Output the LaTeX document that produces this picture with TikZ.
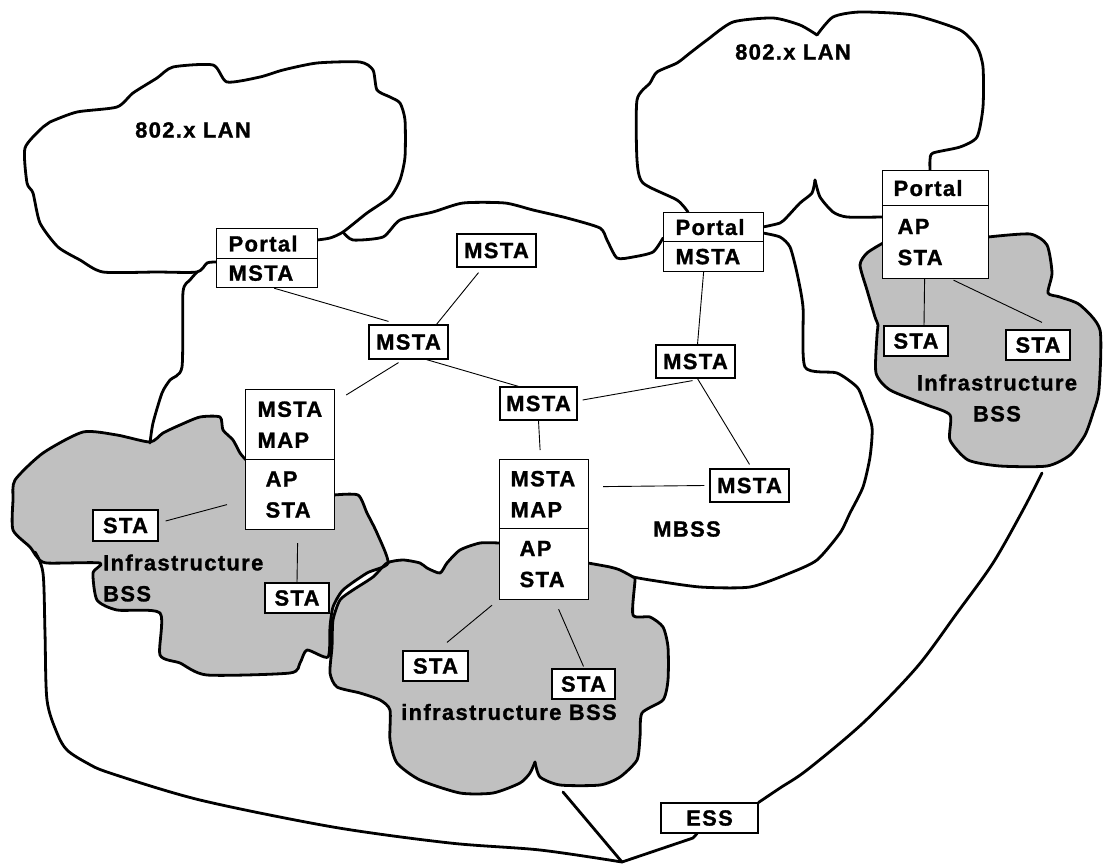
\documentclass[tikz,border=0pt]{standalone}
\usepackage{fontspec}
\newfontfamily\lab{Liberation Sans}[LetterSpace=6, BoldFeatures={FakeBold=1.2}]
\definecolor{bssgray}{HTML}{C0C0C0}
\begin{document}
\begin{tikzpicture}[x=1pt,y=-1pt,
  lblfont/.style={font=\lab\bfseries\fontsize{22}{31}\selectfont},
  cloud/.style={line width=2.8pt, line join=round, line cap=round},
  link/.style={line width=0.9pt},
  cell/.style n args={3}{draw, line width=1.2pt, fill=white, anchor=north west, inner ysep=0pt, inner xsep=#3, text width=#1, minimum height=#2, align=left, lblfont},
  sbox/.style 2 args={draw, line width=1.2pt, fill=white, inner sep=0pt, minimum width=#1, minimum height=#2, lblfont},
  lbl/.style={inner sep=0pt, lblfont}
]
\useasboundingbox (0,0) rectangle (1108,865);

% ---------- gray BSS clouds (fills) ----------
\fill[bssgray] plot[smooth cycle, tension=0.4] coordinates {
 (246,460) (240,453) (233,440) (223,430) (220,417) (200,417) (180,425) (163,433) (150,442)
 (117,435) (83,432) (43,453) (15,480) (13,500) (13,530) (30,547) (37,557) (47,563) (100,563)
 (93,573) (97,600) (117,610) (160,613) (160,655) (180,663) (207,675) (290,673) (300,663)
 (307,650) (328,657) (330,627) (333,607) (343,590) (367,573) (388,563) (377,533) (367,513)
 (358,495) (334,495) (290,480)};
\fill[bssgray] plot[smooth cycle, tension=0.4] coordinates {
 (499,543) (480,543) (460,550) (447,563) (440,573) (427,568) (420,563) (403,560) (387,563)
 (373,577) (353,590) (340,600) (333,620) (332,647) (330,673) (337,687) (360,693) (380,700)
 (390,710) (390,740) (397,763) (420,780) (460,793) (493,793) (520,783) (530,773) (535,762)
 (540,777) (560,785) (600,785) (620,777) (637,760) (640,737) (642,713) (663,700) (668,680)
 (668,647) (663,627) (650,617) (633,615) (635,580) (633,577) (620,570) (610,567) (588,563) (543,550)};
\fill[bssgray] plot[smooth cycle, tension=0.4] coordinates {
 (883,243) (867,253) (860,265) (867,290) (875,317) (878,325) (877,335) (876,373) (890,390)
 (927,405) (950,415) (950,440) (968,460) (1000,466) (1047,466) (1070,455) (1085,435) (1093,413)
 (1099,390) (1100,330) (1080,305) (1060,297) (1048,293) (1052,273) (1047,245) (1030,234) (988,237) (935,250)};

% ---------- gray cloud outlines ----------
\draw[cloud] plot[smooth, tension=0.4] coordinates {
 (246,460) (240,453) (233,440) (223,430) (220,417) (200,417) (180,425) (163,433) (150,442)
 (117,435) (83,432) (43,453) (15,480) (13,500) (13,530) (30,547) (37,557) (47,563) (100,563)
 (93,573) (97,600) (117,610) (160,613) (160,655) (180,663) (207,675) (290,673) (300,663)
 (307,650) (328,657) (330,627) (333,607) (343,590) (367,573) (388,563) (377,533) (367,513)
 (358,495) (334,495)};
\draw[cloud] plot[smooth, tension=0.4] coordinates {
 (499,543) (480,543) (460,550) (447,563) (440,573) (427,568) (420,563) (403,560) (387,563)
 (373,577) (353,590) (340,600) (333,620) (332,647) (330,673) (337,687) (360,693) (380,700)
 (390,710) (390,740) (397,763) (420,780) (460,793) (493,793) (520,783) (530,773) (535,762)};
\draw[cloud] plot[smooth, tension=0.4] coordinates {
 (535,762) (540,777) (560,785) (600,785) (620,777) (637,760) (640,737) (642,713) (663,700) (668,680)
 (668,647) (663,627) (650,617) (633,615) (635,580) (633,577) (620,570) (610,567) (588,563)};
\draw[cloud] plot[smooth, tension=0.4] coordinates {
 (883,243) (867,253) (860,265) (867,290) (875,317) (878,325) (877,335) (876,373) (890,390)
 (927,405) (950,415) (950,440) (968,460) (1000,466) (1047,466) (1070,455) (1085,435) (1093,413)
 (1099,390) (1100,330) (1080,305) (1060,297) (1048,293) (1052,273) (1047,245) (1030,234) (988,237)};

% ---------- white cloud outlines ----------
% left 802.x LAN
\draw[cloud] plot[smooth, tension=0.4] coordinates {
 (216,262) (207,263) (197,272) (157,272) (103,272) (80,260) (58,247) (40,223) (33,193) (27,183)
 (25,148) (43,127) (50,122) (77,112) (117,107) (133,93) (157,78) (173,67) (213,65) (227,82)
 (260,77) (283,70) (317,63) (360,62) (373,70) (377,90) (390,97) (400,103) (405,120) (405,157)
 (400,180) (390,197) (367,213) (343,232) (330,238) (317,240)};
% MBSS left side
\draw[cloud] plot[smooth, tension=0.4] coordinates {
 (197,272) (190,280) (183,292) (182,367) (170,380) (162,393) (153,423) (150,443)};
% MBSS top
\draw[cloud] plot[smooth, tension=0.4] coordinates {
 (343,232) (353,240) (383,237) (400,220) (433,212) (463,203) (505,203) (533,210) (567,218)
 (600,228) (607,240) (617,258) (633,257) (653,252) (663,238)};
% MBSS right and bottom
\draw[cloud] plot[smooth, tension=0.4] coordinates {
 (763,233) (780,237) (790,247) (797,273) (803,307) (805,367) (837,373) (857,387) (863,400)
 (872,427) (870,457) (863,487) (850,513) (840,533) (817,560) (790,573) (750,587) (700,587)
 (650,580) (633,577)};
% right 802.x LAN bottom
\draw[cloud] plot[smooth, tension=0.4] coordinates {
 (763,227) (780,223) (787,217) (800,203) (812,193) (815,180)};
\draw[cloud] plot[smooth, tension=0.4] coordinates {
 (815,180) (820,197) (833,212) (847,217) (882,217)};
% right 802.x LAN top
\draw[cloud] plot[smooth, tension=0.4] coordinates {
 (688,212) (677,200) (643,183) (637,160) (637,100) (650,83) (657,72) (677,63) (690,53)
 (707,40) (733,22) (773,18) (800,25) (817,35)};
\draw[cloud] plot[smooth, tension=0.4] coordinates {
 (817,35) (833,17) (860,12) (913,15) (960,30) (977,47) (983,67) (983,107) (977,137) (960,147)
 (933,153) (930,160) (930,170)};

% ---------- boxes ----------
\node[cell={77pt}{30}{12pt}] (pm1a) at (216,228) {Portal};
\node[cell={77pt}{29}{12pt}] (pm1b) at (216,258) {MSTA};
\node[cell={76pt}{29}{12pt}] (pm2a) at (663,212) {Portal};
\node[cell={76pt}{30}{12pt}] (pm2b) at (663,241) {MSTA};
\node[cell={84pt}{35}{11pt}] (pasa) at (882,170) {Portal};
\node[cell={76pt}{73}{15pt}] (pasb) at (882,205) {AP\\STA};
\node[cell={65pt}{70}{12pt}] (b1a) at (245,389) {MSTA\\MAP};
\node[cell={49pt}{70}{20pt}] (b1b) at (245,459) {AP\\STA};
\node[cell={67pt}{69}{11pt}] (b2a) at (499,459) {MSTA\\MAP};
\node[cell={49pt}{71}{20pt}] (b2b) at (499,528) {AP\\STA};

\node[sbox={79}{33}] (mtop) at (496.5,250.5) {MSTA};
\node[sbox={79}{34}] (mc) at (408.5,342) {MSTA};
\node[sbox={79}{33}] (mr) at (695.5,361.5) {MSTA};
\node[sbox={77}{33}] (mm) at (538.5,403.5) {MSTA};
\node[sbox={79}{33}] (mfr) at (749.5,485.5) {MSTA};
\node[sbox={64}{30}] (s1r) at (916,341) {STA};
\node[sbox={64}{30}] (s2r) at (1038,345) {STA};
\node[sbox={65}{31}] (sl1) at (125.5,525.5) {STA};
\node[sbox={64}{30}] (sl2) at (297,598) {STA};
\node[sbox={65}{30}] (sm1) at (435.5,666) {STA};
\node[sbox={63}{30}] (sm2) at (583.5,684) {STA};
\node[sbox={97}{30}] (ess) at (709.5,818) {ESS};

% ---------- thin links ----------
\draw[link] ([xshift=7pt]pm1b.south) -- ([xshift=-20pt,yshift=3pt]mc.north);
\draw[link] ([xshift=-18pt,yshift=-5pt]mtop.south) -- ([xshift=28pt]mc.north);
\draw[link] ([xshift=-10pt,yshift=-3pt]mc.south) -- ([xshift=11pt,yshift=-6pt]b1a.north east);
\draw[link] ([xshift=18pt]mc.south) -- ([xshift=-20pt]mm.north);
\draw[link] ([xshift=5pt,yshift=3.5pt]mm.east) -- ([xshift=-3pt,yshift=-2pt]mr.south);
\draw[link] (mm.south) -- ([xshift=-4pt,yshift=9pt]b2a.north);
\draw[link] ([xshift=-10pt]pm2b.south) -- ([xshift=2pt]mr.north);
\draw[link] ([xshift=2pt]mr.south) -- ([yshift=4pt]mfr.north);
\draw[link] ([xshift=14pt,yshift=7.5pt]b2a.east) -- ([xshift=-5pt]mfr.west);
\draw[link] ([xshift=7pt,yshift=4.5pt]sl1.east) -- ([xshift=-18pt,yshift=-10pt]b1b.west);
\draw[link] ([xshift=7.5pt,yshift=-13pt]b1b.south) -- (sl2.north);
\draw[link] ([xshift=-7pt,yshift=-5pt]b2b.south west) -- ([xshift=11.5pt,yshift=8pt]sm1.north);
\draw[link] ([xshift=14.5pt,yshift=-9pt]b2b.south) -- ([yshift=2pt]sm2.north);
\draw[link] ([xshift=-11pt]pasb.south) -- ([xshift=8pt]s1r.north);
\draw[link] ([xshift=18pt,yshift=-1pt]pasb.south) -- ([xshift=4pt,yshift=7pt]s2r.north);

% ---------- ESS lines ----------
\coordinate (hub) at (622,862);
\coordinate (essTop) at (1042,473);
\coordinate (bssFoot) at (563,792);
\coordinate (leftStart) at (35,552);
\draw[cloud] plot[smooth, tension=0.5] coordinates {(ess.north east) (780,788) (807,770) (863,723)
 (917,667) (957,613) (993,563) (1023,510) (essTop)};
\draw[cloud] ([xshift=-12.5pt]ess.south) -- (693,838) -- (hub);
\draw[cloud] (bssFoot) -- (hub);
\draw[cloud] plot[smooth, tension=0.5] coordinates {(leftStart) (43,573) (45,633) (47,700) (57,733)
 (67,750) (87,763) (110,773) (200,800) (333,827) (450,843) (540,850) (hub)};

% ---------- labels ----------
\node[lbl] (lan1) at (193,130) {802.x LAN};
\node[lbl] (lan2) at (793,52) {802.x LAN};
\node[lbl] (mbss) at (687,529) {MBSS};
\node[lbl, align=left, anchor=west] (infl) at (103,578) {Infrastructure\\BSS};
\node[lbl, align=center] (infr) at (997,398) {Infrastructure\\BSS};
\node[lbl] (infm) at (509,712) {infrastructure BSS};
\end{tikzpicture}
\end{document}
